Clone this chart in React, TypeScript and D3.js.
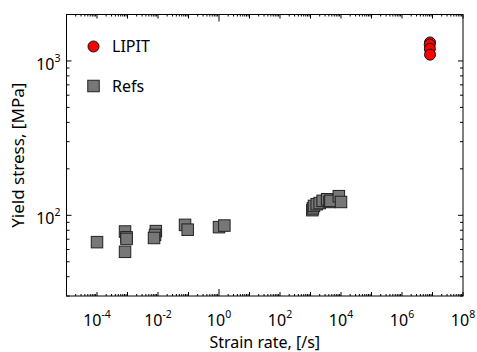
import React from 'react';
import * as d3 from 'd3';

// reference data (strain rate [/s], yield stress [MPa])
const refRate = [1e-4, 8.3e-4, 9.3e-4, 9.3e-4, 8.3e-4, 8.5e-3, 8.0e-3, 7.4e-3, 0.077, 0.094, 1.0, 1.5,
  1150, 1200, 1300, 1600, 2000, 2500, 3500, 4200, 4500, 8500, 10000];
const refStress = [67, 78.5, 72, 70.3, 58, 79, 74.6, 71.3, 86.7, 80.7, 83.8, 85.8,
  108, 111, 115, 118, 120, 124, 127, 122, 124, 133, 122];

const lipitRate = [8.3e6, 8.1e6, 8.2e6, 8.3e6];
const lipitStress = [1318, 1277, 1197, 1099];

const xLabelExps = [-4, -2, 0, 2, 4, 6, 8];
const yLabelExps = [2, 3];

const W = 477;
const H = 352;
const margin = { top: 14.5, right: 14, bottom: 56, left: 66.5 };
const font = '"Noto Sans", sans-serif';

const App = () => {
  const x = d3.scaleLog().domain([1e-5, 1e8]).range([margin.left, W - margin.right]);
  const y = d3.scaleLog().domain([30, 2000]).range([H - margin.bottom, margin.top]);
  const [x0, x1] = x.range();
  const [y0, y1] = y.range(); // y0 bottom, y1 top

  // tick lists
  const xTicks: { v: number; len: number }[] = [];
  for (let e = -5; e <= 8; e++) {
    xTicks.push({ v: Math.pow(10, e), len: e === 0 ? 7 : 4 });
    if (e < 8) for (let m = 2; m <= 9; m++) xTicks.push({ v: m * Math.pow(10, e), len: 2 });
  }
  const yTicks: { v: number; len: number }[] = [];
  for (let e = 1; e <= 3; e++) {
    for (let m = 1; m <= 9; m++) {
      const v = m * Math.pow(10, e);
      if (v < 30 || v > 2000) continue;
      yTicks.push({ v, len: m === 1 ? 5 : 3 });
    }
  }

  const sq = 11.5;

  return (
    <svg width={W} height={H} style={{ position: 'absolute', left: 0, top: 0, background: '#fff' }}>
      {/* ticks */}
      <g stroke="#000" strokeWidth={1}>
        {xTicks.map((t, i) => (
          <g key={'x' + i}>
            <line x1={x(t.v)} x2={x(t.v)} y1={y0} y2={y0 - t.len} />
            <line x1={x(t.v)} x2={x(t.v)} y1={y1} y2={y1 + t.len} />
          </g>
        ))}
        {yTicks.map((t, i) => (
          <g key={'y' + i}>
            <line x1={x0} x2={x0 + t.len} y1={y(t.v)} y2={y(t.v)} />
            <line x1={x1} x2={x1 - t.len} y1={y(t.v)} y2={y(t.v)} />
          </g>
        ))}
      </g>
      <rect x={x0} y={y1} width={x1 - x0} height={y0 - y1} fill="none" stroke="#000" strokeWidth={1} />

      {/* x tick labels */}
      {xLabelExps.map(e => (
        <text key={'xl' + e} x={x(Math.pow(10, e))} y={y0 + 29.5} fontFamily={font} fontSize={16} textAnchor="middle" fill="#000">
          10<tspan dy={-8} fontSize={10.5}>{e}</tspan>
        </text>
      ))}
      {/* y tick labels */}
      {yLabelExps.map(e => (
        <text key={'yl' + e} x={x0 - 6} y={y(Math.pow(10, e)) + 9} fontFamily={font} fontSize={16} textAnchor="end" fill="#000">
          10<tspan dy={-8} fontSize={10.5}>{e}</tspan>
        </text>
      ))}

      {/* axis titles */}
      <text x={(x0 + x1) / 2} y={347.5} fontFamily={font} fontSize={16} textAnchor="middle" fill="#000">Strain rate, [/s]</text>
      <text transform={`translate(24,${(y0 + y1) / 2}) rotate(-90)`} fontFamily={font} fontSize={17} textAnchor="middle" fill="#000">Yield stress, [MPa]</text>

      {/* refs */}
      {refRate.map((r, i) => (
        <rect key={'r' + i} x={x(r) - sq / 2} y={y(refStress[i]) - sq / 2} width={sq} height={sq}
          fill="#777" stroke="#222" strokeWidth={1} />
      ))}
      {/* LIPIT */}
      {lipitRate.map((r, i) => (
        <circle key={'c' + i} cx={x(r)} cy={y(lipitStress[i])} r={5.5} fill="#f00" stroke="#111" strokeWidth={1} />
      ))}

      {/* legend */}
      <circle cx={93.5} cy={46.5} r={5.5} fill="#f00" stroke="#111" strokeWidth={1} />
      <text x={112} y={52} fontFamily={font} fontSize={16} fill="#000">LIPIT</text>
      <rect x={93.5 - sq / 2} y={86 - sq / 2} width={sq} height={sq} fill="#777" stroke="#222" strokeWidth={1} />
      <text x={112} y={91.5} fontFamily={font} fontSize={16} fill="#000">Refs</text>
    </svg>
  );
};

export default App;
